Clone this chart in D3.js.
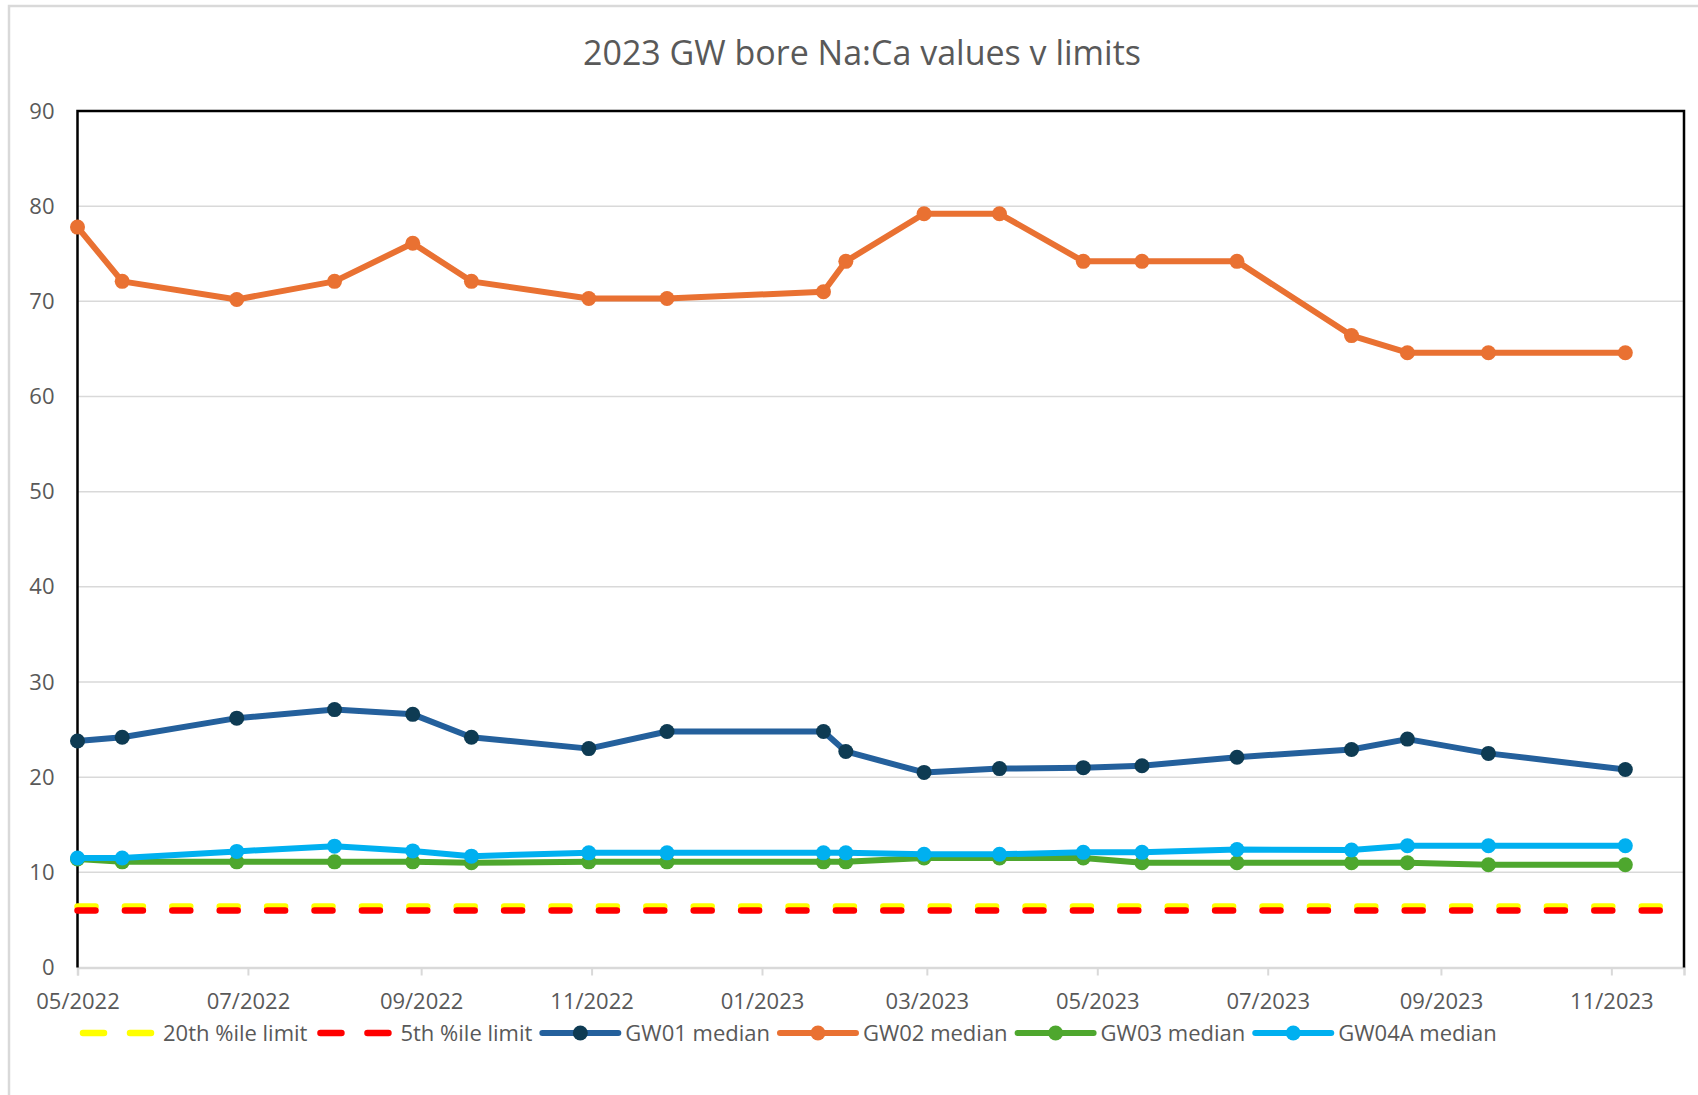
<!DOCTYPE html>
<html lang="en">
<head>
<meta charset="UTF-8">
<title>2023 GW bore Na:Ca values v limits</title>
<script src="https://cdnjs.cloudflare.com/ajax/libs/d3/7.8.5/d3.min.js"></script>
<style>
    body { margin: 0; background: #fff; }
    svg text { font-family: "Open Sans", sans-serif; fill: #595959; }
    .grid line { stroke: #d9d9d9; stroke-width: 1.5; }
</style>
</head>
<body>
<div id="chart"></div>
<script>
    // sample dates (same for every bore)
    const sampleDates = [
        "2022-05-01", "2022-05-17", "2022-06-27", "2022-08-01", "2022-08-29", "2022-09-19",
        "2022-10-31", "2022-11-28", "2023-01-23", "2023-01-31", "2023-02-28", "2023-03-27",
        "2023-04-26", "2023-05-17", "2023-06-20", "2023-07-31", "2023-08-20", "2023-09-18",
        "2023-11-06"
    ];
    const gw01 = [23.8, 24.2, 26.2, 27.1, 26.6, 24.2, 23.0, 24.8, 24.8, 22.7, 20.5, 20.9, 21.0, 21.2, 22.1, 22.9, 24.0, 22.5, 20.8];
    const gw02 = [77.8, 72.1, 70.2, 72.1, 76.1, 72.1, 70.3, 70.3, 71.0, 74.2, 79.2, 79.2, 74.2, 74.2, 74.2, 66.4, 64.6, 64.6, 64.6];
    const gw03 = [11.4, 11.1, 11.1, 11.1, 11.1, 11.0, 11.1, 11.1, 11.1, 11.1, 11.5, 11.5, 11.5, 11.0, 11.0, 11.0, 11.0, 10.8, 10.8];
    const gw04a = [11.5, 11.5, 12.2, 12.75, 12.25, 11.7, 12.05, 12.05, 12.05, 12.05, 11.9, 11.9, 12.1, 12.1, 12.4, 12.35, 12.8, 12.8, 12.8];

    // limit lines run across the whole axis
    const limitDates = ["2022-05-01", "2023-11-27"];
    const pct20 = [6.4, 6.4];
    const pct5 = [6.0, 6.0];

    const yTicks = [0, 10, 20, 30, 40, 50, 60, 70, 80, 90];

    const parse = d3.timeParse("%Y-%m-%d");
    const width = 1698, height = 1095;
    const plot = {left: 77.5, right: 1684, top: 111, bottom: 967.5};

    const series = [
        {name: "20th %ile limit", dates: limitDates, values: pct20, color: "#FFFF00", dashed: true},
        {name: "5th %ile limit", dates: limitDates, values: pct5, color: "#FF0000", dashed: true},
        {name: "GW01 median", dates: sampleDates, values: gw01, color: "#24609C", marker: "#0E3B53"},
        {name: "GW02 median", dates: sampleDates, values: gw02, color: "#E97132", marker: "#E97132"},
        {name: "GW03 median", dates: sampleDates, values: gw03, color: "#4EA72E", marker: "#4EA72E"},
        {name: "GW04A median", dates: sampleDates, values: gw04a, color: "#00B0F0", marker: "#00B0F0"}
    ];

    const svg = d3.select("#chart")
        .append("svg")
        .attr("width", width)
        .attr("height", height);

    // outer chart frame
    svg.append("rect")
        .attr("x", 9).attr("y", 6)
        .attr("width", width + 50).attr("height", height + 50)
        .attr("fill", "#fff")
        .attr("stroke", "#d9d9d9")
        .attr("stroke-width", 2.5);

    const x = d3.scaleTime()
        .domain([parse(limitDates[0]), parse(limitDates[1])])
        .range([plot.left, plot.right]);

    const y = d3.scaleLinear()
        .domain([0, 90])
        .range([plot.bottom, plot.top]);

    // title
    svg.append("text")
        .attr("x", 862)
        .attr("y", 65)
        .attr("text-anchor", "middle")
        .style("font-size", "34px")
        .text("2023 GW bore Na:Ca values v limits");

    // gridlines
    svg.append("g")
        .attr("class", "grid")
        .selectAll("line")
        .data(yTicks.filter(d => d > 0))
        .enter()
        .append("line")
        .attr("x1", plot.left).attr("x2", plot.right)
        .attr("y1", d => y(d)).attr("y2", d => y(d));

    // y axis labels
    const yAxis = svg.append("g")
        .attr("transform", `translate(${plot.left},0)`)
        .call(d3.axisLeft(y).tickValues(yTicks).tickSize(0).tickPadding(23));
    yAxis.select(".domain").remove();
    yAxis.selectAll("text").style("font-size", "22px");

    // x axis
    const xAxis = svg.append("g")
        .attr("transform", `translate(0,${plot.bottom})`)
        .call(d3.axisBottom(x)
            .ticks(d3.timeMonth.every(2))
            .tickFormat(d3.timeFormat("%m/%Y"))
            .tickSize(8)
            .tickPadding(18));
    xAxis.select(".domain").attr("stroke", "#d9d9d9").attr("stroke-width", 2.5);
    xAxis.selectAll(".tick line").attr("stroke", "#d9d9d9").attr("stroke-width", 2);
    xAxis.selectAll("text").style("font-size", "22px");

    // plot area border (top, left, right)
    svg.append("path")
        .attr("d", `M${plot.left},${plot.bottom} V${plot.top} H${plot.right} V${plot.bottom}`)
        .attr("fill", "none")
        .attr("stroke", "#000")
        .attr("stroke-width", 2.5);

    // series
    const line = d3.line()
        .x(d => x(d.date))
        .y(d => y(d.value));

    series.forEach(s => {
        const pts = s.dates.map((d, i) => ({date: parse(d), value: s.values[i]}));
        const g = svg.append("g");
        g.append("path")
            .datum(pts)
            .attr("d", line)
            .attr("fill", "none")
            .attr("stroke", s.color)
            .attr("stroke-width", s.dashed ? 6.5 : 6)
            .attr("stroke-linejoin", "round")
            .attr("stroke-linecap", "round")
            .attr("stroke-dasharray", s.dashed ? "18 29.4" : null);
        if (s.marker) {
            g.selectAll("circle")
                .data(pts)
                .enter()
                .append("circle")
                .attr("cx", d => x(d.date))
                .attr("cy", d => y(d.value))
                .attr("r", 7.5)
                .attr("fill", s.marker);
        }
    });

    // legend
    const legend = svg.append("g").attr("transform", "translate(80,1033)");
    let lx = 0;
    series.forEach(s => {
        const item = legend.append("g").attr("transform", `translate(${lx},0)`);
        item.append("line")
            .attr("x1", s.dashed ? 3 : 0).attr("x2", 76)
            .attr("stroke", s.color)
            .attr("stroke-width", s.dashed ? 6.5 : 6)
            .attr("stroke-linecap", "round")
            .attr("stroke-dasharray", s.dashed ? "21 26" : null);
        if (s.marker) {
            item.append("circle").attr("cx", 38).attr("r", 7.5).attr("fill", s.marker);
        }
        const t = item.append("text")
            .attr("x", 83)
            .attr("dy", "0.35em")
            .style("font-size", "22px")
            .text(s.name);
        lx += 83 + t.node().getComputedTextLength() + 10;
    });
</script>
</body>
</html>
